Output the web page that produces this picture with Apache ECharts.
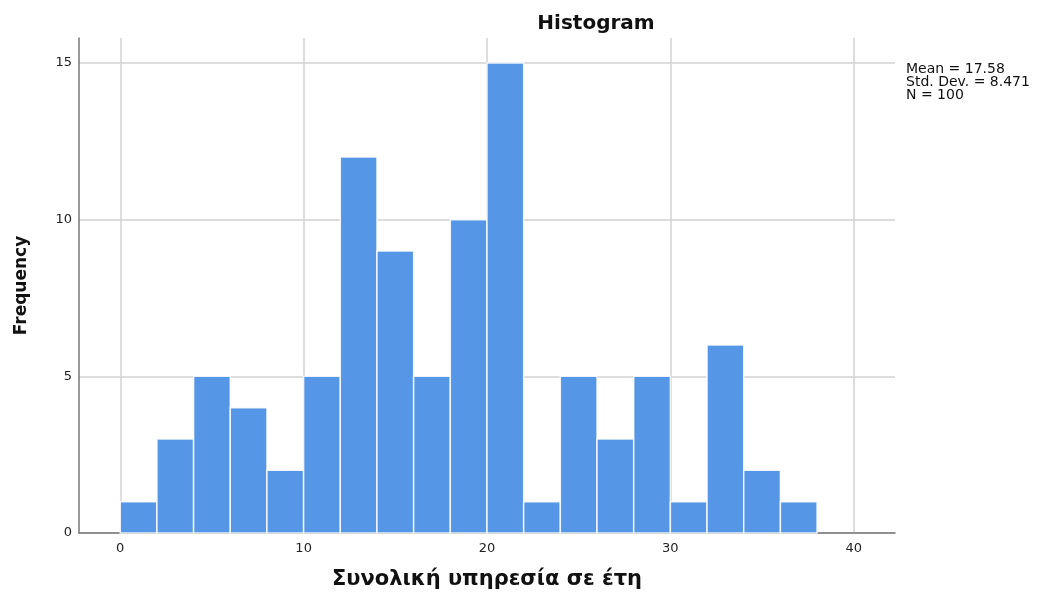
<!DOCTYPE html>
<html>
<head>
<meta charset="utf-8">
<script src="https://cdn.jsdelivr.net/npm/echarts@6/dist/echarts.min.js"></script>
<style>html,body{margin:0;padding:0;background:#fff}#c{width:1037px;height:592px}</style>
</head>
<body>
<div id="c"></div>
<script>
// Data
const binStarts = [0, 2, 4, 6, 8, 10, 12, 14, 16, 18, 20, 22, 24, 26, 28, 30, 32, 34, 36];
const binWidth = 2;
const frequencies = [1, 3, 5, 4, 2, 5, 12, 9, 5, 10, 15, 1, 5, 3, 5, 1, 6, 2, 1];
const xTicks = [0, 10, 20, 30, 40];
const yTicks = [0, 5, 10, 15];
const statsLines = ['Mean = 17.58', 'Std. Dev. = 8.471', 'N = 100'];

const data = binStarts.map((s, i) => [s, s + binWidth, frequencies[i]]);
const FONT = 'DejaVu Sans';

const chart = echarts.init(document.getElementById('c'));
chart.setOption({
  animation: false,
  backgroundColor: '#fff',
  title: {
    text: 'Histogram',
    left: 591, top: 9, textAlign: 'center',
    textStyle: { fontFamily: FONT, fontSize: 20, fontWeight: 'bold', color: '#111' }
  },
  grid: { left: 79, right: 142, top: 38, bottom: 59, containLabel: false, outerBoundsMode: 'none' },
  xAxis: {
    type: 'value', min: -2.25, max: 42.25,
    name: 'Συνολική υπηρεσία σε έτη', nameLocation: 'middle', nameGap: 36,
    nameTextStyle: { fontFamily: FONT, fontSize: 21, fontWeight: 'bold', color: '#111' },
    axisLine: { show: true, onZero: false, lineStyle: { color: '#777', width: 1.5 } },
    axisTick: { show: false, customValues: xTicks },
    axisLabel: { customValues: xTicks, fontFamily: FONT, fontSize: 13, color: '#222', margin: 9 },
    splitLine: { show: true, lineStyle: { color: '#d2d2d2', width: 1.5 } }
  },
  yAxis: {
    type: 'value', min: 0, max: 15.8,
    name: 'Frequency', nameLocation: 'middle', nameGap: 49, nameRotate: 90,
    nameTextStyle: { fontFamily: FONT, fontSize: 17, fontWeight: 'bold', color: '#111' },
    axisLine: { show: true, onZero: false, lineStyle: { color: '#777', width: 1.5 } },
    axisTick: { show: false, customValues: yTicks },
    axisLabel: { customValues: yTicks, fontFamily: FONT, fontSize: 13, color: '#222', margin: 7 },
    splitLine: { show: true, lineStyle: { color: '#d2d2d2', width: 1.5 } }
  },
  graphic: [{
    type: 'text', left: 906, top: 62,
    style: { text: statsLines.join('\n'), font: '14px ' + FONT, fill: '#111', lineHeight: 13 }
  }],
  series: [{
    type: 'custom',
    data: data,
    encode: { x: [0, 1], y: 2 },
    renderItem: function (params, api) {
      const p0 = api.coord([api.value(0), api.value(2)]);
      const p1 = api.coord([api.value(1), 0]);
      return {
        type: 'rect',
        shape: { x: p0[0], y: p0[1], width: p1[0] - p0[0], height: p1[1] - p0[1] },
        style: { fill: '#5596e6', stroke: 'rgba(255,255,255,0.85)', lineWidth: 1.5 }
      };
    }
  }]
});
</script>
</body>
</html>
